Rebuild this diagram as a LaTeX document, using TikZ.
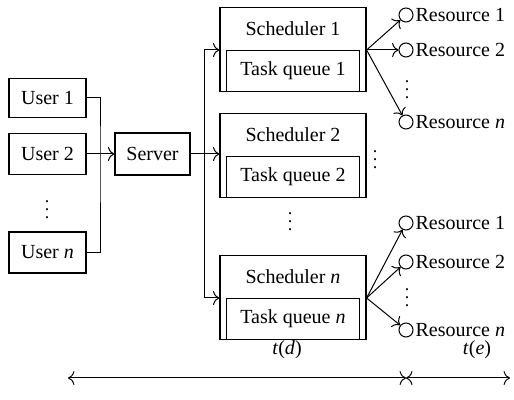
\documentclass[tikz,border=0pt]{standalone}
\usepackage{fontspec}
\setmainfont{Liberation Serif}
\usetikzlibrary{arrows.meta,positioning,calc}
\tikzset{>={To[length=3.2pt,width=7pt]}}
\tikzset{
  box/.style={draw,rectangle,inner sep=0pt,line width=0.6pt},
  res/.style={draw,circle,minimum size=7pt,inner sep=0pt},
  rlab/.style={inner sep=0.8pt},
  vdots/.style={inner sep=0pt,font=\small},
}

\begin{document}
\begin{tikzpicture}[x=0.5pt,y=-0.5pt,line width=0.5pt]
    \useasboundingbox (0,0) rectangle (514,400);
    % users and server
    \node[box,minimum width=38.5pt,minimum height=19.5pt] (user1) at (47.5,98) {User 1};
    \node[box,minimum width=38.5pt,minimum height=20.5pt] (user2) at (47.5,154) {User 2};
    \node[box,minimum width=38.5pt,minimum height=20.5pt] (usern) at (47.5,252.5) {User \textit{n}};
    \node[vdots] (udots) at (47,204) {$\vdots$};
    \node[box,minimum width=37.5pt,minimum height=21pt] (server) at (152.5,154) {Server};
    \coordinate (ujoin) at (100,154);
    \draw (user1.east) -| (ujoin) |- (usern.east);
    \draw[->] (user2) -- (server);
    % schedulers with their queues
    \foreach \i/\sy/\lab in {1/7/1, 2/113/2, n/255/\textit{n}}{
     \node[box,minimum width=73pt,minimum height=42pt,anchor=north] (sched\i) at (293,\sy) {};
     \node[box,minimum width=66.5pt,minimum height=20.5pt,anchor=south] (queue\i) at (sched\i.south) {Task queue \lab};
     \node (slab\i) at ($(sched\i.north)!0.5!(queue\i.north)$) {Scheduler \lab};}
    \node[vdots] (sdots) at (290,216) {$\vdots$};
    \node[vdots] (qdots) at (375,154) {$\vdots$};
    \coordinate (sjoin) at (204,154);
    \draw (server) -- (sjoin);
    \draw[->] (sjoin) -- (sched2.west |- sjoin);
    \draw[->] (sjoin) |- (sched1.west |- queue1.north);
    \draw[->] (sjoin) |- (schedn.west |- queuen.north);
    % resources of scheduler 1
    \coordinate (fan1) at (sched1.east |- queue1.north);
    \node[res] (res11) at (406,15) {};
    \node[res] (res12) at (406,50) {};
    \node[res] (res1n) at (406,122) {};
    \node[rlab,right=0pt of res11] (lab11) {Resource 1};
    \node[rlab,right=0pt of res12] (lab12) {Resource 2};
    \node[rlab,right=0pt of res1n] (lab1n) {Resource \textit{n}};
    \node[vdots] (rdots1) at (407,84) {$\vdots$};
    \foreach \r in {res11,res12,res1n}{
     \draw[->] (fan1) -- (\r);}
    % resources of scheduler n
    \coordinate (fann) at (schedn.east |- queuen.north);
    \node[res] (resn1) at (406,223) {};
    \node[res] (resn2) at (406,262) {};
    \node[res] (resnn) at (406,330) {};
    \node[rlab,right=0pt of resn1] (labn1) {Resource 1};
    \node[rlab,right=0pt of resn2] (labn2) {Resource 2};
    \node[rlab,right=0pt of resnn] (labnn) {Resource \textit{n}};
    \node[vdots] (rdotsn) at (407,292) {$\vdots$};
    \foreach \r in {resn1,resn2,resnn}{
     \draw[->] (fann) -- (\r);}
    % time axis
    \coordinate (tl) at (68,378);
    \coordinate (tm) at (406,378);
    \coordinate (tr) at (510,378);
    \draw[<->] (tl) -- (tm);
    \draw[<->] (tm) -- (tr);
    \node (td) at (287,350) {\textit{t}(\textit{d})};
    \node (te) at (477,350) {\textit{t}(\textit{e})};
  \end{tikzpicture}
\end{document}
